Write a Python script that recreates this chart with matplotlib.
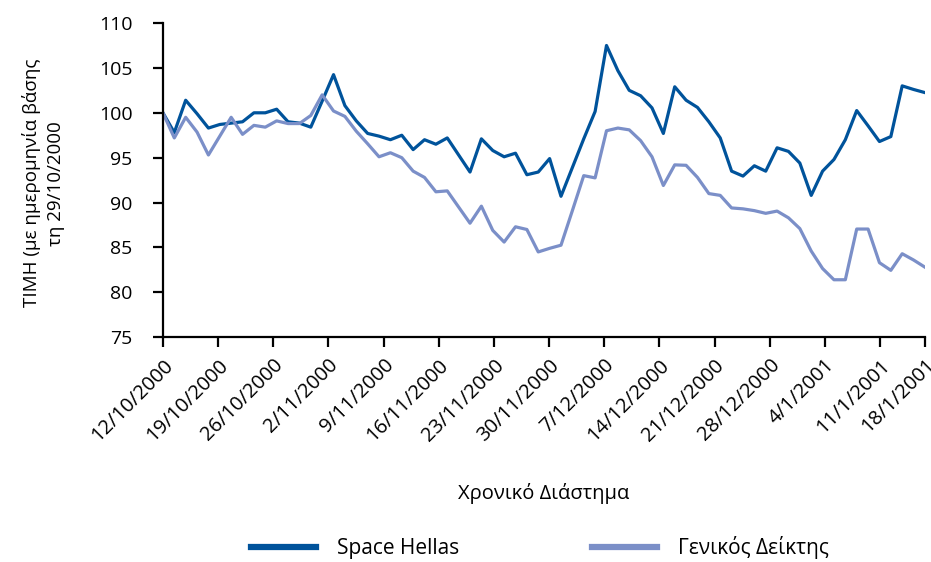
import numpy as np
from matplotlib import pyplot as plt

# values, one per trading day (index 100 at start)
space_hellas = [100.0, 97.8, 101.4, 99.9, 98.3, 98.7, 98.85, 99.0, 100.0, 100.0,
                100.4, 99.0, 98.85, 98.4, 101.3, 104.25, 100.8, 99.1, 97.7, 97.4,
                97.0, 97.5, 95.9, 97.0, 96.5, 97.2, 95.3, 93.4, 97.1, 95.8,
                95.1, 95.5, 93.1, 93.4, 94.9, 90.7, 93.9, 97.1, 100.15, 107.5,
                104.7, 102.5, 101.9, 100.55, 97.7, 102.9, 101.4, 100.6, 99.0, 97.2,
                93.5, 92.95, 94.1, 93.5, 96.1, 95.7, 94.4, 90.8, 93.5, 94.8,
                97.0, 100.25, 98.55, 96.8, 97.35, 103.0, 102.6, 102.25]
general_index = [100.0, 97.2, 99.5, 97.85, 95.3, 97.4, 99.5, 97.6, 98.6, 98.4,
                 99.1, 98.8, 98.8, 99.7, 102.0, 100.2, 99.6, 97.95, 96.55, 95.1,
                 95.55, 95.0, 93.5, 92.8, 91.2, 91.3, 89.5, 87.7, 89.6, 86.9,
                 85.6, 87.3, 87.0, 84.5, 84.9, 85.25, 89.1, 93.0, 92.75, 98.0,
                 98.3, 98.1, 96.9, 95.1, 91.9, 94.2, 94.15, 92.8, 91.0, 90.8,
                 89.4, 89.3, 89.1, 88.8, 89.05, 88.3, 87.1, 84.6, 82.65, 81.4,
                 81.4, 87.05, 87.05, 83.3, 82.45, 84.3, 83.6, 82.8]
date_labels = ['12/10/2000', '19/10/2000', '26/10/2000', '2/11/2000', '9/11/2000',
               '16/11/2000', '23/11/2000', '30/11/2000', '7/12/2000', '14/12/2000',
               '21/12/2000', '28/12/2000', '4/1/2001', '11/1/2001', '18/1/2001']

plt.rcParams['font.family'] = ['Open Sans', 'DejaVu Sans']

dark = '#00539b'
light = '#7b8fc8'

fig = plt.figure(figsize=(9.31, 5.62), dpi=100)
ax = fig.add_axes([0.175, 0.400, 0.8185, 0.559])

x = np.arange(len(space_hellas))
ax.plot(x, space_hellas, color=dark, lw=2.3, label='Space Hellas')
ax.plot(x, general_index, color=light, lw=2.3, label='Γενικός Δείκτης')

# weekly labels sit about 4.85 trading days apart, the last one at the end
tick_pos = [k * 4.85 for k in range(len(date_labels) - 1)] + [len(x) - 1]
ax.set_xticks(tick_pos)
ax.set_xticklabels(date_labels, rotation=45, ha='right', rotation_mode='anchor')
ax.set_xlim(0, len(x) - 1)
ax.set_ylim(75, 110)
ax.set_yticks(np.arange(75, 111, 5))

for side in ['top', 'right']:
    ax.spines[side].set_visible(False)
for side in ['left', 'bottom']:
    ax.spines[side].set_linewidth(1.6)
ax.tick_params(axis='both', length=7, width=1.6)
ax.tick_params(axis='y', pad=15, labelsize=14)
ax.tick_params(axis='x', pad=6, labelsize=14.5)

ax.set_xlabel('Χρονικό Διάστημα', fontsize=14.5, va='center')
ax.xaxis.set_label_coords(0.5, -0.497)
ax.set_ylabel('ΤΙΜΗ (με ημερομηνία βάσης\nτη 29/10/2000', fontsize=13.5,
              linespacing=1.4, va='center')
ax.yaxis.set_label_coords(-0.157, 0.49)

fig.legend(loc='center', bbox_to_anchor=(0.58, 0.025), ncol=2,
           frameon=False, fontsize=15, handlelength=3.1, columnspacing=6.4,
           handletextpad=1.0)
for line in fig.legends[0].get_lines():
    line.set_linewidth(4.5)

fig.savefig('out.png', dpi=100)
